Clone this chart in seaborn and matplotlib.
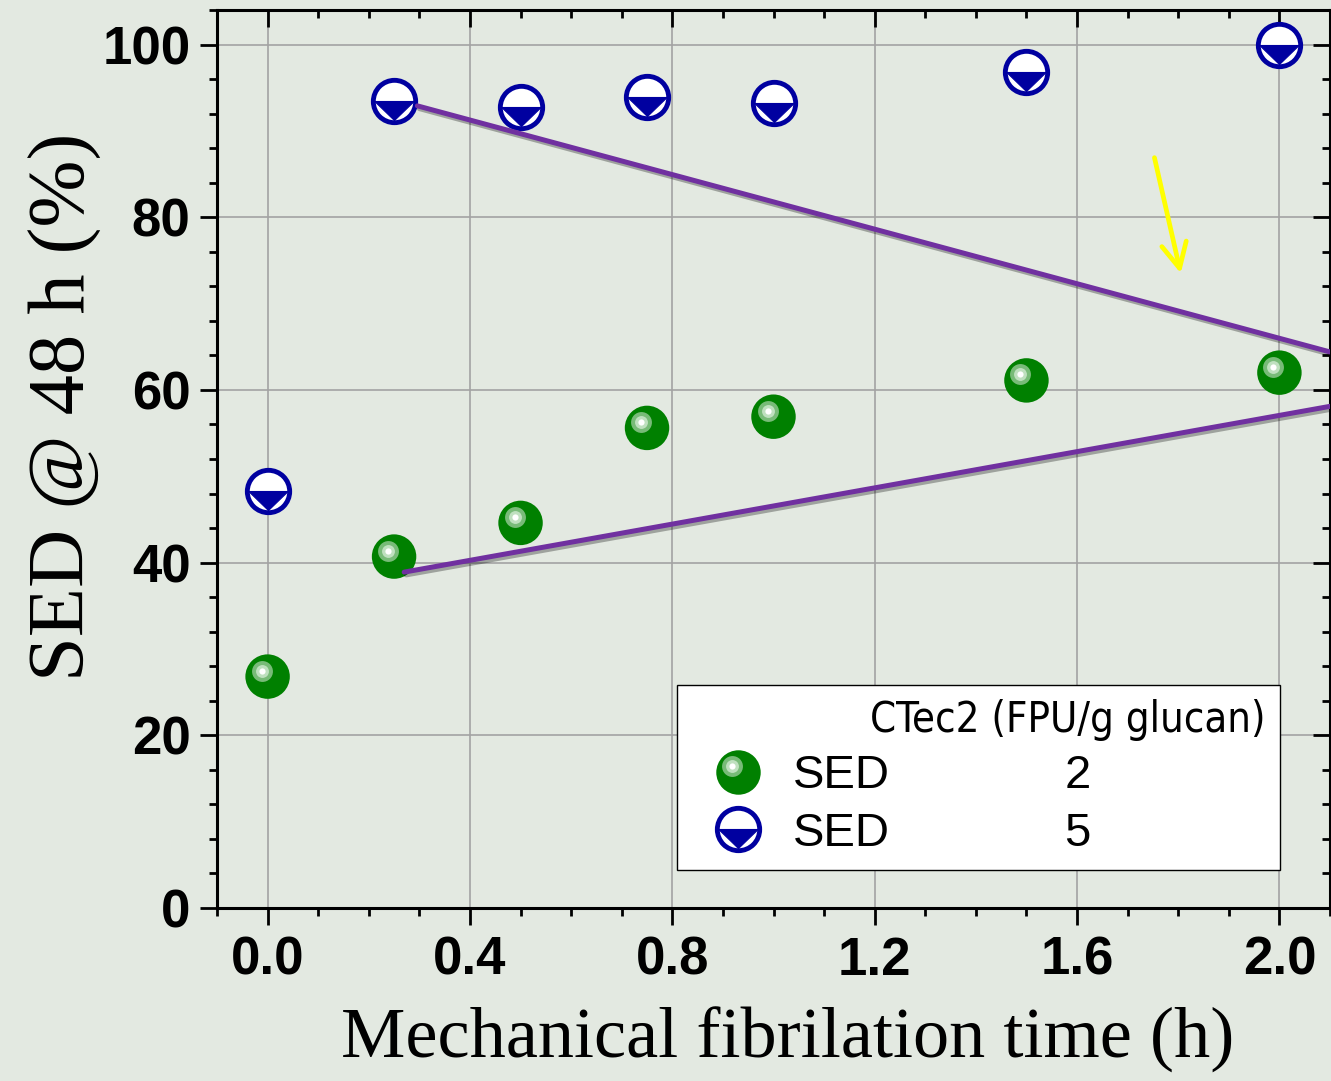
import matplotlib
matplotlib.use("Agg")
import matplotlib.pyplot as plt
import matplotlib.patheffects as pe
from matplotlib import font_manager
from matplotlib.font_manager import FontProperties
from matplotlib.path import Path
from matplotlib.lines import Line2D
from matplotlib.ticker import MultipleLocator
import numpy as np
import pandas as pd
import seaborn as sns

# data
time_h = [0.0, 0.25, 0.5, 0.75, 1.0, 1.5, 2.0]
sed_ctec2_2 = [26.8, 40.7, 44.6, 55.6, 56.9, 61.1, 62.0]
sed_ctec2_5 = [48.3, 93.5, 92.8, 93.9, 93.2, 96.8, 100.0]

# purple guide lines and the yellow arrow (data coordinates)
upper_guide_x = [0.296, 2.1]
upper_guide_y = [92.9, 64.4]
lower_guide_x = [0.27, 2.1]
lower_guide_y = [38.9, 58.1]
arrow_tail = (1.753, 86.9)
arrow_head = (1.805, 73.5)

x_ticks = [0.0, 0.4, 0.8, 1.2, 1.6, 2.0]
y_ticks = [0, 20, 40, 60, 80, 100]

bg = "#e3e9e1"
green = "#008000"
navy = "#0000a0"
purple = "#7030a0"

sns.set_style("ticks")
plt.rcParams["font.family"] = ["Liberation Sans", "DejaVu Sans"]
for key in ["text.color", "axes.labelcolor", "xtick.color", "ytick.color", "axes.edgecolor"]:
    plt.rcParams[key] = "black"

# look for a narrow sans face for the legend title
narrow_file = None
for f in font_manager.fontManager.ttflist:
    if f.style != "normal" or f.weight not in (400, "normal", "regular"):
        continue
    if "Narrow" in f.name or "Condensed" in f.name or f.stretch in ("condensed", "semi-condensed", 75, 87):
        if "Serif" in f.name or "Mono" in f.name:
            continue
        narrow_file = f.fname
        break
if narrow_file:
    title_prop = FontProperties(fname=narrow_file, size=30)
else:
    title_prop = FontProperties(family="Liberation Sans", size=28)


def bounded(path):
    # keep marker scale: one unit = marker radius
    verts = np.vstack([[[-1, -1], [1, 1]], path.vertices])
    codes = np.concatenate([[Path.MOVETO, Path.MOVETO], path.codes])
    return Path(verts, codes)


ring_outer = bounded(Path.circle((-0.27, 0.27), 0.47))
ring_inner = bounded(Path.circle((-0.27, 0.27), 0.29))
ring_dot = bounded(Path.circle((-0.27, 0.27), 0.14))
tri_down = bounded(Path([(-0.93, 0), (0.93, 0), (0, -0.9), (-0.93, 0)],
                        [Path.MOVETO, Path.LINETO, Path.LINETO, Path.CLOSEPOLY]))
highlights = [(ring_outer, "#78bb78"), (ring_inner, "#bfe0bf"), (ring_dot, "white")]

ms_g = 32
ms_b = 30.5
mew_b = 3.5

fig = plt.figure(figsize=(13.31, 10.81), dpi=100, facecolor=bg)
ax = fig.add_axes([217 / 1331, 1 - 908 / 1081, 1113 / 1331, 898 / 1081])
ax.set_facecolor(bg)

df = pd.DataFrame({"time": time_h * 2,
                   "sed": sed_ctec2_2 + sed_ctec2_5,
                   "dose": ["2"] * len(time_h) + ["5"] * len(time_h)})

# green spheres
sns.scatterplot(data=df[df.dose == "2"], x="time", y="sed", ax=ax, s=ms_g ** 2,
                color=green, edgecolor="none", linewidth=0, zorder=4, legend=False)
for mk, col in highlights:
    ax.plot(time_h, sed_ctec2_2, ls="none", marker=mk, ms=ms_g, mfc=col, mec="none", zorder=5)

# half-filled blue circles
sns.scatterplot(data=df[df.dose == "5"], x="time", y="sed", ax=ax, s=ms_b ** 2,
                color="white", edgecolor=navy, linewidth=mew_b, zorder=4, legend=False)
ax.plot(time_h, sed_ctec2_5, ls="none", marker=tri_down, ms=ms_b, mfc=navy,
        mec=navy, mew=0.8, zorder=5)

# guide lines
shadow = [pe.SimpleLineShadow(offset=(1.5, -2), alpha=0.3), pe.Normal()]
ax.plot(upper_guide_x, upper_guide_y, color=purple, lw=3.6, zorder=6, path_effects=shadow)
ax.plot(lower_guide_x, lower_guide_y, color=purple, lw=3.6, zorder=6, path_effects=shadow)
ax.annotate("", xy=arrow_head, xytext=arrow_tail,
            arrowprops=dict(arrowstyle="->", color="#ffff00", lw=3.4,
                            mutation_scale=45, shrinkA=0, shrinkB=0), zorder=6)

ax.set_xlim(-0.1, 2.1)
ax.set_ylim(0, 104)
ax.set_xticks(x_ticks)
ax.set_xticklabels([f"{v:.1f}" for v in x_ticks])
ax.set_yticks(y_ticks)
ax.xaxis.set_minor_locator(MultipleLocator(0.1))
ax.yaxis.set_minor_locator(MultipleLocator(4))
ax.grid(True, which="major", color="#a3a3a3", lw=1.2, zorder=0)
ax.set_axisbelow(True)

for sp in ax.spines.values():
    sp.set_linewidth(2.2)
    sp.set_color("black")
    sp.set_visible(True)

ax.tick_params(which="both", top=True, right=True, width=2.0, color="black")
ax.tick_params(axis="x", which="major", length=12, pad=8, labelsize=38, labelcolor="black")
ax.tick_params(axis="x", which="minor", length=6)
ax.tick_params(axis="y", which="major", length=12, pad=7, labelsize=38, labelcolor="black")
ax.tick_params(axis="y", which="minor", length=6)
for lab in ax.get_xticklabels() + ax.get_yticklabels():
    lab.set_fontweight("bold")
# inward ticks on top and right, outward on bottom and left
for tick in ax.xaxis.get_major_ticks() + ax.xaxis.get_minor_ticks():
    tick.tick2line.set_marker(3)
for tick in ax.yaxis.get_major_ticks() + ax.yaxis.get_minor_ticks():
    tick.tick2line.set_marker(0)
ax.set_xlabel("")
ax.set_ylabel("")

fig.text(788 / 1331, 1 - 1040 / 1081, "Mechanical fibrilation time (h)", color="black",
         family=["Liberation Serif", "DejaVu Serif"], fontsize=52, ha="center", va="center")
fig.text(65 / 1331, 1 - 407 / 1081, "SED @ 48 h (%)", rotation=90, color="black",
         family=["Liberation Serif", "DejaVu Serif"], fontsize=58, ha="center", va="center")

# legend: SED label column, dose column and an empty spacer column
h2 = tuple([Line2D([], [], ls="none", marker="o", ms=ms_g, mfc=green, mec="none")] +
           [Line2D([], [], ls="none", marker=mk, ms=ms_g, mfc=col, mec="none")
            for mk, col in highlights])
h5 = (Line2D([], [], ls="none", marker="o", ms=ms_b, mfc="white", mec=navy, mew=mew_b),
      Line2D([], [], ls="none", marker=tri_down, ms=ms_b, mfc=navy, mec=navy, mew=0.8))
blank = Line2D([], [], ls="none")
leg = ax.legend(handles=[h2, h5, blank, blank, blank, blank],
                labels=["SED", "SED", "2", "5", "", ""], ncol=3,
                title="CTec2 (FPU/g glucan)", title_fontproperties=title_prop,
                loc="upper left", borderaxespad=0,
                bbox_to_anchor=((677 - 217) / 1113, (908 - 685) / 898),
                fontsize=34, frameon=True, fancybox=False, framealpha=1,
                edgecolor="black", facecolor="white", handlelength=2.0,
                handletextpad=0.15, columnspacing=1.55, labelspacing=0.28,
                borderpad=0.3, alignment="right")
leg.get_frame().set_linewidth(1.0)
for t in leg.get_texts():
    t.set_color("black")
leg.get_title().set_color("black")
leg.set_zorder(10)

fig.savefig("out.png", dpi=100, facecolor=bg)
